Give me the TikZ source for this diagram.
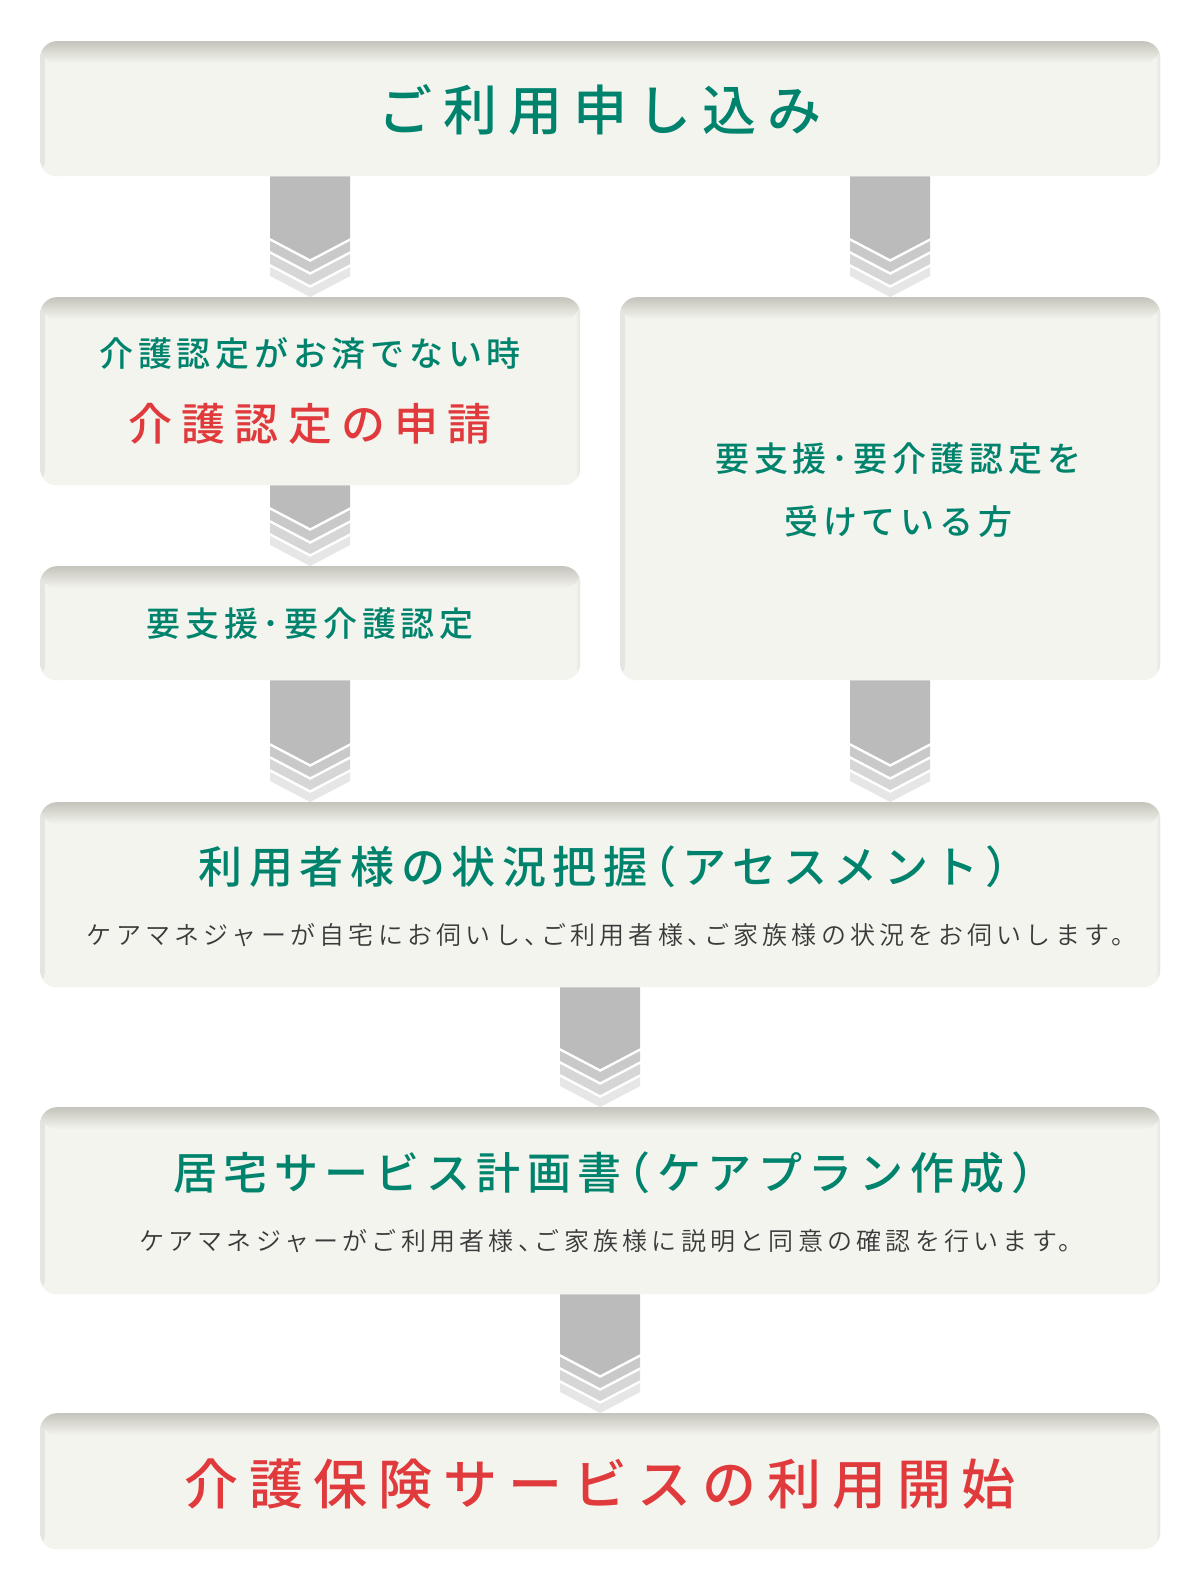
\documentclass[tikz,border=0pt]{standalone}
\usepackage{fontspec}
\usetikzlibrary{calc}
\newfontfamily\jp{Noto Sans CJK JP}[BoldFont={Noto Sans CJK JP Medium}, CharacterWidth=AlternateHalf]
\newfontfamily\jplight{Noto Sans CJK JP DemiLight}[CharacterWidth=AlternateHalf]

\definecolor{flowgreen}{HTML}{00836C}
\definecolor{flowred}{HTML}{E03A3C}
\definecolor{boxfill}{HTML}{F4F4EE}
\definecolor{boxedge}{HTML}{C4C4BC}
\definecolor{subgray}{HTML}{3A3A3A}
\definecolor{arrowmain}{HTML}{BBBBBB}
\definecolor{arrowband1}{HTML}{C9C9C9}
\definecolor{arrowband2}{HTML}{D6D6D6}
\definecolor{arrowband3}{HTML}{E6E6E6}

\tikzset{
  flow box/.style={rounded corners=17pt, fill=boxfill, inner sep=0pt, anchor=north west,
    path picture={
      \shade[left color=boxedge!45, right color=boxfill] (path picture bounding box.north west) rectangle ([xshift=5pt]path picture bounding box.south west);
      \shade[right color=boxedge!45, left color=boxfill] ([xshift=-5pt]path picture bounding box.north east) rectangle (path picture bounding box.south east);
      \shade[top color=boxedge, bottom color=boxfill] (path picture bounding box.north west) rectangle ([yshift=-22pt]path picture bounding box.north east);
    }},
  big title/.style={font=\jp\bfseries\addfontfeatures{LetterSpace=20}\fontsize{54}{60}\selectfont},
  step title/.style={font=\jp\bfseries\addfontfeatures{LetterSpace=15}\fontsize{44}{50}\selectfont, text=flowgreen, xshift=3pt},
  red title/.style={font=\jp\bfseries\addfontfeatures{LetterSpace=21}\fontsize{44}{50}\selectfont, text=flowred},
  small title/.style={font=\jp\bfseries\addfontfeatures{LetterSpace=14}\fontsize{34}{40}\selectfont, text=flowgreen},
  note text/.style={font=\jplight\addfontfeatures{LetterSpace=17}\fontsize{25}{30}\selectfont, text=subgray, xshift=5pt}
}

% chevron arrow: x taken from #1, from the bottom of #2 to the top of #3
\newcommand{\flowarrow}[3]{%
  \fill[arrowmain] let \p1=(#2.south), \p2=(#3.north), \p3=(#1.center) in
    (\x3-40pt,\y1) -- (\x3+40pt,\y1) -- (\x3+40pt,\y2+59pt) -- (\x3,\y2+38pt) -- (\x3-40pt,\y2+59pt) -- cycle;
  \foreach \c/\t/\b in {arrowband1/56/46, arrowband2/43/33, arrowband3/30/21}
    \fill[\c] let \p2=(#3.north), \p3=(#1.center) in
      (\x3-40pt,{\y2+\t*1pt}) -- (\x3,{\y2+\t*1pt-21pt}) -- (\x3+40pt,{\y2+\t*1pt})
      -- (\x3+40pt,{\y2+\b*1pt}) -- (\x3,{\y2+\b*1pt-21pt}) -- (\x3-40pt,{\y2+\b*1pt}) -- cycle;
}

\begin{document}
\begin{tikzpicture}[x=1pt, y=-1pt]
	\useasboundingbox[fill=white] (0,0) rectangle (1200,1590);

	\node[flow box, minimum width=1120pt, minimum height=135pt] (apply) at (40,41) {};
	\node[flow box, minimum width=540pt, minimum height=188pt] (unregistered) at (40,297) {};
	\node[flow box, minimum width=540pt, minimum height=114pt] (certify) at (40,566) {};
	\node[flow box, minimum width=540pt, minimum height=383pt] (certified) at (620,297) {};
	\node[flow box, minimum width=1120pt, minimum height=185pt] (assess) at (40,802) {};
	\node[flow box, minimum width=1120pt, minimum height=187pt] (plan) at (40,1107) {};
	\node[flow box, minimum width=1120pt, minimum height=136pt] (start) at (40,1413) {};

	\node[big title, text=flowgreen] (apply text) at ([yshift=-1pt]apply.center) {ご利用申し込み};

	\node[small title] (unregistered note) at ([yshift=38pt]unregistered.center) {介護認定がお済でない時};
	\node[red title] (unregistered text) at ([yshift=-33pt]unregistered.center) {介護認定の申請};

	\node[small title] (certify text) at (certify.center) {要支援･要介護認定};

	\node[small title] (certified text 1) at ([xshift=8pt,yshift=30pt]certified.center) {要支援･要介護認定を};
	\node[small title] (certified text 2) at ([xshift=8pt,yshift=-33pt]certified.center) {受けている方};

	\node[step title] (assess text) at ([yshift=28pt]assess.center) {利用者様の状況把握（アセスメント）};
	\node[note text] (assess note) at ([yshift=-40pt]assess.center) {ケアマネジャーが自宅にお伺いし、ご利用者様、ご家族様の状況をお伺いします。};

	\node[step title] (plan text) at ([yshift=28pt]plan.center) {居宅サービス計画書（ケアプラン作成）};
	\node[note text] (plan note) at ([yshift=-40pt]plan.center) {ケアマネジャーがご利用者様、ご家族様に説明と同意の確認を行います。};

	\node[big title, text=flowred] (start text) at ([yshift=-3pt]start.center) {介護保険サービスの利用開始};

	\flowarrow{unregistered}{apply}{unregistered}
	\flowarrow{certified}{apply}{certified}
	\flowarrow{certify}{unregistered}{certify}
	\flowarrow{certify}{certify}{assess}
	\flowarrow{certified}{certified}{assess}
	\flowarrow{assess}{assess}{plan}
	\flowarrow{plan}{plan}{start}
\end{tikzpicture}
\end{document}
